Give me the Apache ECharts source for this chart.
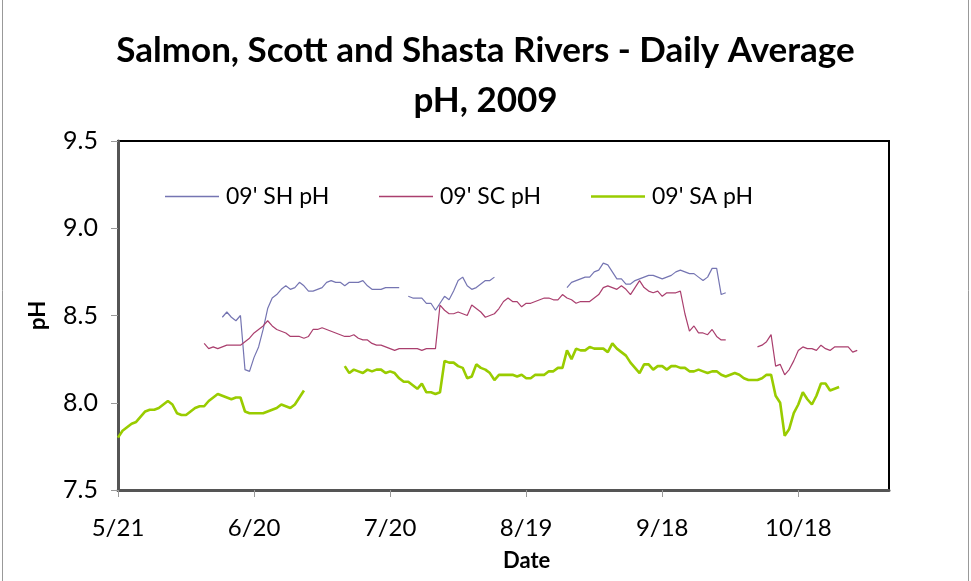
<!DOCTYPE html>
<html>
<head>
<meta charset="utf-8">
<script src="https://cdn.jsdelivr.net/npm/echarts@6/dist/echarts.min.js"></script>
<style>html,body{margin:0;padding:0;background:#fff}#c{width:971px;height:581px}</style>
</head>
<body>
<div id="c"></div>
<script>
// x positions are day offsets from 5/21 (day 0); axis runs to day 170 (11/7)
const tickDays = [0, 30, 60, 90, 120, 150];
const tickLabels = ["5/21", "6/20", "7/20", "8/19", "9/18", "10/18"];
const yTicks = [7.5, 8.0, 8.5, 9.0, 9.5];
const seriesNames = ["09' SH pH", "09' SC pH", "09' SA pH"];

// 09' SH pH (Shasta) starting day 23
const shStart = 23;
const shValues = [
  8.49,8.52,8.49,8.47,8.50,8.19,8.18,
  8.26,8.32,8.42,8.54,8.60,8.62,8.65,8.67,8.65,8.66,
  8.69,8.67,8.64,8.64,8.65,8.66,8.69,8.70,8.69,8.69,
  8.67,8.69,8.69,8.69,8.70,8.67,8.65,8.65,8.65,8.66,
  8.66,8.66,8.66,
  null,
  8.61,8.60,8.60,8.60,8.57,8.57,
  8.53,8.57,8.61,8.59,8.64,8.70,8.72,8.67,8.65,8.66,
  8.68,8.70,8.70,8.72,
  null,null,null,null,null,null,null,null,null,null,null,null,null,null,null,
  8.66,
  8.69,8.70,8.71,8.72,8.72,8.75,8.76,8.80,8.79,8.75,
  8.71,8.71,8.68,8.68,8.70,8.71,8.72,8.73,8.73,8.72,
  8.71,8.72,8.73,8.75,8.76,8.75,8.74,8.74,8.72,8.70,
  8.72,8.77,8.77,8.62,8.63
];

// 09' SC pH (Scott) starting day 19
const scStart = 19;
const scValues = [
  8.34,8.31,8.32,8.31,8.32,8.33,8.33,8.33,8.33,8.35,8.37,
  8.40,8.42,8.44,8.47,8.44,8.42,8.41,8.40,8.38,8.38,
  8.38,8.37,8.38,8.42,8.42,8.43,8.42,8.41,8.40,8.39,
  8.38,8.38,8.39,8.37,8.36,8.36,8.34,8.33,8.33,8.32,
  8.31,8.30,8.31,8.31,8.31,8.31,8.31,8.30,8.31,8.31,
  8.31,8.56,8.53,8.51,8.51,8.52,8.51,8.50,8.56,8.54,
  8.52,8.49,8.50,8.51,8.54,8.58,8.60,8.58,8.58,8.55,
  8.57,8.57,8.58,8.59,8.60,8.60,8.59,8.59,8.62,8.60,
  8.59,8.57,8.58,8.58,8.58,8.60,8.62,8.66,8.67,8.66,
  8.65,8.67,8.65,8.62,8.66,8.70,8.66,8.64,8.63,8.64,
  8.61,8.63,8.63,8.63,8.64,8.51,8.41,8.44,8.40,8.40,
  8.39,8.42,8.38,8.36,8.36,
  null,null,null,null,null,null,
  8.32,8.33,8.35,8.39,8.21,8.22,8.16,8.19,8.24,
  8.30,8.32,8.31,8.31,8.30,8.33,8.31,8.30,8.32,8.32,
  8.32,8.32,8.29,8.30
];

// 09' SA pH (Salmon) starting day 0
const saStart = 0;
const saValues = [
  7.80,7.84,7.86,7.88,7.89,7.92,7.95,7.96,7.96,7.97,
  7.99,8.01,7.99,7.94,7.93,7.93,7.95,7.97,7.98,7.98,
  8.01,8.03,8.05,8.04,8.03,8.02,8.03,8.03,7.95,7.94,
  7.94,7.94,7.94,7.95,7.96,7.97,7.99,7.98,7.97,7.99,
  8.03,8.07,
  null,null,null,null,null,null,null,null,
  8.21,8.17,8.19,8.18,8.17,8.19,8.18,8.19,8.19,8.17,
  8.18,8.17,8.14,8.12,8.12,8.10,8.08,8.11,8.06,8.06,
  8.05,8.06,8.24,8.23,8.23,8.21,8.20,8.14,8.15,8.22,
  8.20,8.19,8.17,8.13,8.16,8.16,8.16,8.16,8.15,8.16,
  8.14,8.14,8.16,8.16,8.16,8.18,8.18,8.20,8.20,8.30,
  8.25,8.31,8.30,8.30,8.32,8.31,8.31,8.31,8.29,8.34,
  8.31,8.29,8.27,8.23,8.20,8.17,8.22,8.22,8.19,8.21,
  8.21,8.19,8.21,8.21,8.20,8.20,8.18,8.18,8.19,8.18,
  8.17,8.18,8.18,8.16,8.15,8.16,8.17,8.16,8.14,8.13,
  8.13,8.13,8.14,8.16,8.16,8.04,8.00,7.81,7.85,7.94,
  7.99,8.06,8.02,7.99,8.04,8.11,8.11,8.07,8.08,8.09
];

function toPairs(start, vals) {
  return vals.map((v, i) => [start + i, v]);
}

const FONT = 'Lato';
const colors = ['#7575B2', '#AA3F6E', '#99CC00'];
const widths = [1.2, 1.2, 2.6];

const chart = echarts.init(document.getElementById('c'), null, {renderer: 'canvas'});

const legendLefts = [160, 374, 586];
const legends = seriesNames.map((n, i) => ({
  data: [n],
  left: legendLefts[i],
  top: 180,
  icon: 'rect',
  itemWidth: 54,
  itemHeight: widths[i] > 2 ? 2.6 : 1.5,
  itemGap: 0,
  textStyle: {fontFamily: FONT, fontSize: 23, color: '#000', padding: [0, 0, 0, 2]},
  selectedMode: false
}));

chart.setOption({
  animation: false,
  backgroundColor: '#fff',
  title: {
    text: 'Salmon, Scott and Shasta Rivers - Daily Average\npH, 2009',
    left: 'center',
    top: 21,
    textStyle: {fontFamily: FONT, fontWeight: 'bold', fontSize: 35, color: '#000', lineHeight: 50}
  },
  legend: legends,
  grid: {left: 118, top: 141, right: 82, bottom: 91, show: true, borderColor: '#000', borderWidth: 2, backgroundColor: '#fff'},
  xAxis: {
    type: 'value',
    min: 0, max: 170, interval: 30,
    splitLine: {show: false},
    axisLine: {show: true, onZero: false, lineStyle: {color: '#555', width: 3}},
    axisTick: {show: true, length: 7, lineStyle: {color: '#999', width: 1}, customValues: tickDays},
    axisLabel: {
      customValues: tickDays,
      formatter: v => { const k = tickDays.indexOf(v); return k >= 0 ? tickLabels[k] : ''; },
      fontFamily: FONT, fontSize: 24, color: '#000', margin: 26
    }
  },
  yAxis: {
    type: 'value',
    min: 7.5, max: 9.5, interval: 0.5,
    splitLine: {show: false},
    axisLine: {show: true, lineStyle: {color: '#555', width: 3}},
    axisTick: {show: true, inside: false, length: 7, lineStyle: {color: '#999', width: 1}},
    axisLabel: {formatter: v => v.toFixed(1), fontFamily: FONT, fontSize: 25, color: '#000', margin: 20}
  },
  graphic: [
    {type: 'text', left: 503, top: 550, style: {text: 'Date', font: 'bold 22px ' + FONT, fill: '#000'}},
    {type: 'text', x: 27, y: 330, rotation: Math.PI / 2, style: {text: 'pH', font: 'bold 22px ' + FONT, fill: '#000'}},
    {type: 'line', shape: {x1: 2.5, y1: 0, x2: 2.5, y2: 581}, style: {stroke: '#999', lineWidth: 1}},
    {type: 'line', shape: {x1: 968.5, y1: 0, x2: 968.5, y2: 581}, style: {stroke: '#999', lineWidth: 1}}
  ],
  series: [
    {name: seriesNames[0], type: 'line', data: toPairs(shStart, shValues), showSymbol: false, connectNulls: false,
     lineStyle: {color: colors[0], width: widths[0]}, itemStyle: {color: colors[0]}},
    {name: seriesNames[1], type: 'line', data: toPairs(scStart, scValues), showSymbol: false, connectNulls: false,
     lineStyle: {color: colors[1], width: widths[1]}, itemStyle: {color: colors[1]}},
    {name: seriesNames[2], type: 'line', data: toPairs(saStart, saValues), showSymbol: false, connectNulls: false,
     lineStyle: {color: colors[2], width: widths[2]}, itemStyle: {color: colors[2]}}
  ]
});
</script>
</body>
</html>
